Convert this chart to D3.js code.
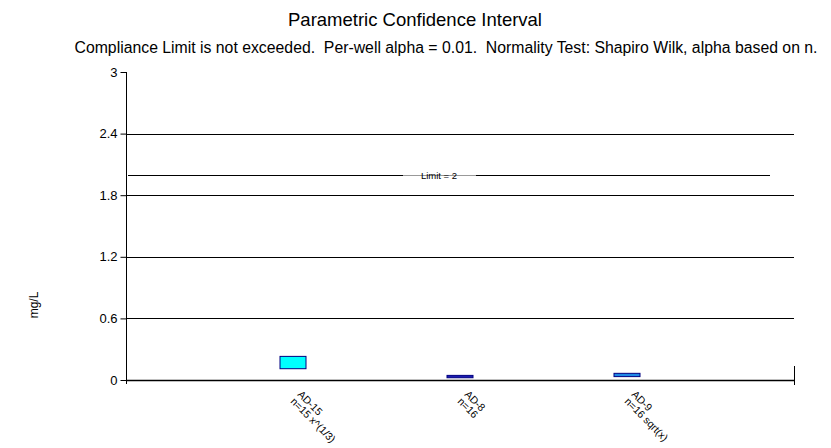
<!DOCTYPE html>
<html><head><meta charset="utf-8">
<script src="https://cdn.jsdelivr.net/npm/d3@7"></script>
<style>body{margin:0;background:#fff}svg{display:block;font-family:"Liberation Sans",Arial,sans-serif}text{white-space:pre}</style>
</head><body><svg id="c" width="831" height="448"></svg>
<script>
const categories = ["AD-15", "AD-8", "AD-9"];
const subLabels = ["n=15 x^(1/3)", "n=16", "n=16 sqrt(x)"];
const lower = [0.11, 0.022, 0.033];
const upper = [0.23, 0.045, 0.065];
const fills = ["#00ffff", "#1c1cb0", "#1e88e5"];
const yTicks = [0, 0.6, 1.2, 1.8, 2.4, 3];
const limit = 2;

const svg = d3.select("#c");
const L = 126, R = 794, T = 72, B = 380;
const x = d3.scalePoint().domain(["_s", ...categories, "_e"]).range([L, R]);
const y = d3.scaleLinear().domain([0, 3]).range([B, T]);

svg.append("text").attr("x", 415).attr("y", 26).attr("text-anchor", "middle")
  .attr("font-size", 18.5).text("Parametric Confidence Interval");
svg.append("text").attr("x", 446).attr("y", 53).attr("text-anchor", "middle")
  .attr("font-size", 15.8).attr("xml:space", "preserve")
  .text("Compliance Limit is not exceeded.  Per-well alpha = 0.01.  Normality Test: Shapiro Wilk, alpha based on n.");

// gridlines
svg.append("g").selectAll("line").data(yTicks.filter(d => d > 0 && d < 3)).join("line")
  .attr("x1", L).attr("x2", R).attr("y1", d => Math.round(y(d)) + 0.5).attr("y2", d => Math.round(y(d)) + 0.5)
  .attr("stroke", "#000").attr("stroke-width", 1);

// y axis
const ya = svg.append("g").attr("transform", `translate(${L + 0.5},0)`)
  .call(d3.axisLeft(y).tickValues(yTicks).tickSize(6).tickFormat(d => d3.format("")(d)));
ya.select(".domain").attr("d", `M0,${T}V${B + 4}`).attr("stroke", "#000");
ya.selectAll(".tick line").attr("stroke", "#000");
ya.selectAll(".tick text").attr("font-size", 13).attr("font-family", "Liberation Sans, Arial, sans-serif").attr("x", -9);

// x axis baseline
svg.append("line").attr("x1", L).attr("x2", R).attr("y1", B + 0.5).attr("y2", B + 0.5).attr("stroke", "#000").attr("stroke-width", 1.5);
svg.append("line").attr("x1", R + 0.5).attr("x2", R + 0.5).attr("y1", 366).attr("y2", 385).attr("stroke", "#000");

// limit line
const ly = Math.round(y(limit)) + 0.5;
svg.append("line").attr("x1", 128).attr("x2", 403).attr("y1", ly).attr("y2", ly).attr("stroke", "#000");
svg.append("line").attr("x1", 403).attr("x2", 476).attr("y1", ly).attr("y2", ly).attr("stroke", "#999");
svg.append("line").attr("x1", 476).attr("x2", 770).attr("y1", ly).attr("y2", ly).attr("stroke", "#000");
svg.append("text").attr("x", 439).attr("y", ly + 3).attr("text-anchor", "middle").attr("font-size", 9.5).text("Limit = " + limit);

// boxes
svg.append("g").selectAll("rect").data(categories).join("rect")
  .attr("x", d => x(d) - 13).attr("width", 26)
  .attr("y", (d, i) => y(upper[i])).attr("height", (d, i) => y(lower[i]) - y(upper[i]))
  .attr("fill", (d, i) => fills[i]).attr("stroke", "#000080").attr("stroke-width", 1);

// x labels
const lab = svg.append("g").selectAll("g").data(categories).join("g")
  .attr("transform", d => `translate(${x(d) + 4},395) rotate(45)`);
lab.append("text").attr("font-size", 10.5).attr("x", 0).attr("y", 0).text(d => d);
lab.append("text").attr("font-size", 10.5).attr("x", 0).attr("y", 0).attr("dy", "0.95em").text((d, i) => subLabels[i]);

// y label
svg.append("text").attr("transform", "translate(38,305) rotate(-90)").attr("text-anchor", "middle")
  .attr("font-size", 12).text("mg/L");
</script></body></html>
